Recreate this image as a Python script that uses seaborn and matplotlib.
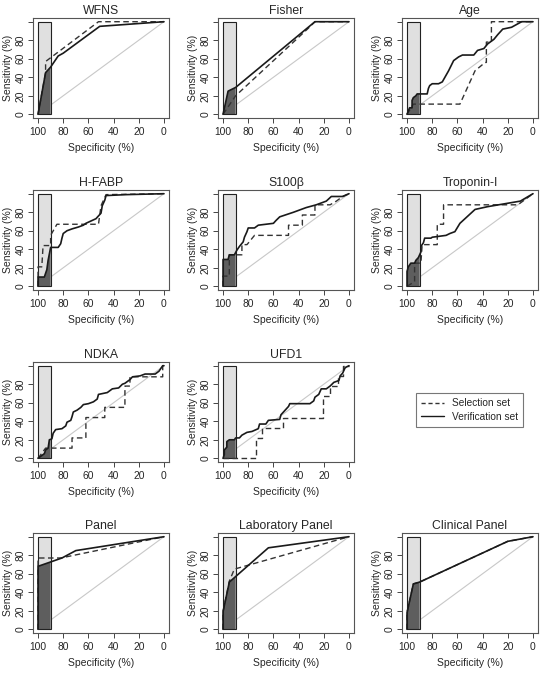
import numpy as np
import matplotlib
matplotlib.use('Agg')
import matplotlib.pyplot as plt
from matplotlib.patches import Rectangle
from matplotlib.lines import Line2D
import seaborn as sns

# ROC curves, specificity / sensitivity in %
titles = ['WFNS', 'Fisher', 'Age', 'H-FABP', 'S100\u03b2', 'Troponin-I',
          'NDKA', 'UFD1', 'Panel', 'Laboratory Panel', 'Clinical Panel']

wfns_sel_spec = [100, 94, 94, 52, 0]
wfns_sel_sens = [0, 45, 57, 100, 100]
wfns_ver_spec = [100, 94, 90, 84, 80, 51, 0]
wfns_ver_sens = [0, 45, 51, 63, 66, 95, 100]

fisher_sel_spec = [100, 90, 33, 27, 0]
fisher_sel_sens = [0, 20, 92, 100, 100]
fisher_ver_spec = [100, 96, 90, 27, 0]
fisher_ver_sens = [0, 25, 29, 100, 100]

age_sel_spec = [100, 95, 58, 46, 38, 37, 37, 33, 33, 0]
age_sel_sens = [0, 11, 11, 47, 56, 56, 78, 78, 100, 100]
age_ver_spec = [100, 98, 96, 96, 95, 93, 92, 89, 84, 83, 82, 80, 75, 72, 67, 63,
                59, 56, 47, 44, 39, 36, 31, 28, 24, 17, 9, 0]
age_ver_sens = [0, 7, 7, 15, 18, 20, 22, 22, 22, 28, 31, 33, 33, 35, 47, 58,
                62, 64, 64, 69, 71, 76, 81, 86, 92, 94, 100, 100]

hfabp_sel_spec = [100, 100, 97, 96, 90, 90, 85, 52, 50, 46, 0]
hfabp_sel_sens = [0, 21, 21, 44, 44, 55, 67, 67, 87, 99, 100]
hfabp_ver_spec = [100, 100, 95, 94, 93, 92, 90, 84, 82, 81, 80, 77, 73, 68, 64,
                  62, 54, 52, 50, 49, 47, 46, 30, 0]
hfabp_ver_sens = [0, 10, 10, 14, 18, 28, 42, 42, 46, 52, 57, 60, 62, 64, 66,
                  68, 73, 76, 79, 87, 93, 98, 99, 100]

s100_sel_spec = [100, 100, 95, 95, 85, 85, 81, 75, 73, 48, 48, 37, 37, 27, 27,
                 15, 10, 5, 0]
s100_sel_sens = [0, 11, 11, 34, 34, 45, 45, 55, 55, 55, 66, 66, 77, 77, 88,
                 88, 92, 97, 100]
s100_ver_spec = [100, 100, 96, 95, 91, 89, 87, 84, 83, 81, 80, 75, 72, 60, 58,
                 55, 44, 34, 26, 18, 14, 5, 0]
s100_ver_sens = [0, 29, 29, 34, 34, 39, 43, 48, 53, 59, 63, 63, 66, 68, 71,
                 75, 80, 85, 88, 92, 97, 97, 100]

trop_sel_spec = [100, 94, 94, 89, 88, 76, 76, 71, 71, 12, 0]
trop_sel_sens = [0, 5, 25, 25, 45, 45, 67, 67, 88, 88, 100]
trop_ver_spec = [100, 100, 99, 97, 94, 93, 91, 89, 89, 87, 86, 81, 80, 69, 66,
                 62, 58, 46, 36, 23, 10, 0]
trop_ver_sens = [0, 16, 21, 25, 25, 28, 31, 37, 43, 47, 52, 52, 53, 55, 57,
                 59, 68, 83, 86, 89, 92, 100]

ndka_sel_spec = [100, 94, 73, 73, 62, 62, 47, 47, 31, 31, 27, 27, 1, 1, 0]
ndka_sel_sens = [0, 11, 11, 22, 22, 44, 44, 55, 55, 78, 78, 88, 88, 100, 100]
ndka_ver_spec = [100, 98, 95, 94, 92, 91, 89, 88, 86, 81, 78, 77, 74, 73, 72,
                 69, 66, 64, 60, 56, 53, 52, 45, 41, 36, 33, 31, 27, 25, 19,
                 15, 7, 4, 1, 0]
ndka_ver_sens = [0, 2, 5, 9, 11, 20, 21, 27, 31, 32, 35, 39, 41, 45, 50,
                 52, 55, 58, 59, 61, 64, 69, 71, 75, 76, 80, 81, 85, 88, 89,
                 91, 91, 94, 100, 100]

ufd1_sel_spec = [100, 74, 74, 69, 69, 52, 52, 21, 21, 15, 15, 9, 9, 5, 5, 0]
ufd1_sel_sens = [0, 0, 22, 22, 33, 33, 44, 44, 67, 67, 78, 78, 89, 89, 100, 100]
ufd1_ver_spec = [100, 99, 99, 97, 97, 95, 91, 90, 87, 85, 81, 77, 72, 71, 66,
                 64, 55, 54, 52, 50, 48, 47, 31, 28, 27, 24, 22, 18, 15, 12,
                 8, 7, 5, 3, 0]
ufd1_ver_sens = [0, 4, 9, 12, 18, 20, 20, 22, 22, 25, 28, 29, 32, 37, 37,
                 41, 42, 47, 50, 53, 56, 59, 59, 62, 66, 69, 75, 75, 78, 82,
                 84, 89, 92, 98, 100]

panel_sel_spec = [100, 100, 82, 0]
panel_sel_sens = [0, 77, 77, 100]
panel_ver_spec = [100, 100, 81, 70, 0]
panel_ver_sens = [0, 68, 77, 85, 100]

lab_sel_spec = [100, 100, 95, 91, 0]
lab_sel_sens = [0, 19, 52, 65, 100]
lab_ver_spec = [100, 100, 95, 64, 0]
lab_ver_sens = [0, 19, 51, 88, 100]

clin_sel_spec = [100, 100, 95, 90, 20, 0]
clin_sel_sens = [0, 18, 49, 51, 95, 100]
clin_ver_spec = [100, 100, 95, 90, 20, 0]
clin_ver_sens = [0, 18, 49, 51, 95, 100]

selection = [(wfns_sel_spec, wfns_sel_sens), (fisher_sel_spec, fisher_sel_sens),
             (age_sel_spec, age_sel_sens), (hfabp_sel_spec, hfabp_sel_sens),
             (s100_sel_spec, s100_sel_sens), (trop_sel_spec, trop_sel_sens),
             (ndka_sel_spec, ndka_sel_sens), (ufd1_sel_spec, ufd1_sel_sens),
             (panel_sel_spec, panel_sel_sens), (lab_sel_spec, lab_sel_sens),
             (clin_sel_spec, clin_sel_sens)]
verification = [(wfns_ver_spec, wfns_ver_sens), (fisher_ver_spec, fisher_ver_sens),
                (age_ver_spec, age_ver_sens), (hfabp_ver_spec, hfabp_ver_sens),
                (s100_ver_spec, s100_ver_sens), (trop_ver_spec, trop_ver_sens),
                (ndka_ver_spec, ndka_ver_sens), (ufd1_ver_spec, ufd1_ver_sens),
                (panel_ver_spec, panel_ver_sens), (lab_ver_spec, lab_ver_sens),
                (clin_ver_spec, clin_ver_sens)]

# partial AUC specificity range
pauc_hi, pauc_lo = 100, 90

# panel grid slots (row, col); slot (2, 2) holds the legend
slots = [(0, 0), (0, 1), (0, 2), (1, 0), (1, 1), (1, 2),
         (2, 0), (2, 1), (3, 0), (3, 1), (3, 2)]

W, H = 542, 685
col_left = [33, 218, 402]
row_top = [18, 190, 362, 533]
box_w, box_h = 136, 100


def pauc_polygon(spec, sens, lo):
    xs, ys = [], []
    for i in range(len(spec)):
        if spec[i] >= lo:
            xs.append(spec[i])
            ys.append(sens[i])
        else:
            x0, y0, x1, y1 = spec[i - 1], sens[i - 1], spec[i], sens[i]
            t = (x0 - lo) / (x0 - x1)
            xs.append(lo)
            ys.append(y0 + t * (y1 - y0))
            break
    return xs + [lo, xs[0]], ys + [0, 0]


sns.set_style('white')
plt.rcParams['font.family'] = ['Liberation Sans', 'DejaVu Sans']
text_col = '#262626'

fig = plt.figure(figsize=(W / 100, H / 100), dpi=100)

for k, title in enumerate(titles):
    r, c = slots[k]
    ax = fig.add_axes([col_left[c] / W, 1 - (row_top[r] + box_h) / H,
                       box_w / W, box_h / H])
    ax.plot([100, 0], [0, 100], color='#c8c8c8', lw=0.8, zorder=1)
    ax.add_patch(Rectangle((pauc_lo, 0), pauc_hi - pauc_lo, 100,
                           facecolor='#e0e0e0', edgecolor='none', zorder=2))
    vs, vy = verification[k]
    px, py = pauc_polygon(vs, vy, pauc_lo)
    ax.fill(px, py, color='#5e5e5e', lw=0, zorder=3)
    ax.add_patch(Rectangle((pauc_lo, 0), pauc_hi - pauc_lo, 100,
                           facecolor='none', edgecolor='#222222', lw=0.8, zorder=4))
    ss, sy = selection[k]
    sns.lineplot(x=ss, y=sy, sort=False, estimator=None, color='#333333',
                 lw=1.0, linestyle=(0, (4, 2.5)), ax=ax, zorder=5)
    sns.lineplot(x=vs, y=vy, sort=False, estimator=None, color='#1a1a1a',
                 lw=1.2, ax=ax, zorder=6)

    ax.set_xlim(104, -4)
    ax.set_ylim(-4, 104)
    ax.set_xticks([100, 80, 60, 40, 20, 0])
    ax.set_yticks([0, 20, 40, 60, 80, 100])
    ax.set_yticklabels(['0', '20', '40', '60', '80', ''])
    ax.tick_params(axis='both', direction='out', length=3.5, width=0.7,
                   color='#444444', labelsize=7.4, labelcolor=text_col,
                   left=True, bottom=True)
    ax.tick_params(axis='x', pad=3)
    ax.tick_params(axis='y', pad=2)
    for lab in ax.get_yticklabels():
        lab.set_rotation(90)
        lab.set_va('center')
    for sp in ax.spines.values():
        sp.set_color('#555555')
        sp.set_linewidth(0.8)
    ax.set_xlabel('Specificity (%)', fontsize=7.5, color=text_col, labelpad=4)
    ax.set_ylabel('Sensitivity (%)', fontsize=7.5, color=text_col, labelpad=2)
    ax.set_title(title, fontsize=8.8, color=text_col, pad=3)
    if ax.get_legend() is not None:
        ax.get_legend().remove()

handles = [Line2D([], [], color='#333333', lw=1.0, linestyle=(0, (3, 2))),
           Line2D([], [], color='#1a1a1a', lw=1.0)]
leg = fig.legend(handles, ['Selection set', 'Verification set'], loc='center',
                 bbox_to_anchor=(469.5 / W, 1 - 410 / H), fontsize=7.3,
                 frameon=True, fancybox=False, handlelength=2.2,
                 handletextpad=0.8, borderpad=0.5, labelspacing=0.3)
leg.get_frame().set_edgecolor('#555555')
leg.get_frame().set_linewidth(0.8)
for t in leg.get_texts():
    t.set_color(text_col)

fig.savefig('out.png', dpi=100)
